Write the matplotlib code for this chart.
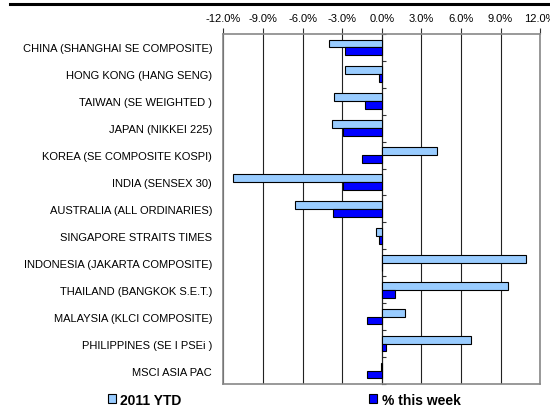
import numpy as np
import matplotlib
matplotlib.use("Agg")
import matplotlib.pyplot as plt
from matplotlib.lines import Line2D
from matplotlib.ticker import FuncFormatter

plt.rcParams["font.family"] = ["Liberation Sans", "DejaVu Sans"]

# ── Données ──────────────────────────────────────────────────────────────────
markets = [
    "CHINA (SHANGHAI SE COMPOSITE)",
    "HONG KONG (HANG SENG)",
    "TAIWAN (SE WEIGHTED )",
    "JAPAN (NIKKEI 225)",
    "KOREA (SE COMPOSITE KOSPI)",
    "INDIA (SENSEX 30)",
    "AUSTRALIA (ALL ORDINARIES)",
    "SINGAPORE STRAITS TIMES",
    "INDONESIA (JAKARTA COMPOSITE)",
    "THAILAND (BANGKOK S.E.T.)",
    "MALAYSIA (KLCI COMPOSITE)",
    "PHILIPPINES (SE I PSEi )",
    "MSCI ASIA PAC",
]
ytd_2011  = [-4.0, -2.8, -3.6, -3.8, 4.2, -11.3, -6.6, -0.4, 10.9, 9.6, 1.8, 6.8, -0.05]
this_week = [-2.8, -0.2, -1.3, -2.9, -1.5, -2.9, -3.7, -0.2, 0.0, 1.0, -1.1, 0.3, -1.1]
xticks    = [-12, -9, -6, -3, 0, 3, 6, 9, 12]

# ── Figure ───────────────────────────────────────────────────────────────────
fig = plt.figure(figsize=(5.5, 4.1), dpi=100)
ax = fig.add_axes([0.406, 0.061, 0.576, 0.854])

y = np.arange(len(markets))
h = 0.29
ax.barh(y - h / 2, ytd_2011, height=h, color="#99CCFF",
        edgecolor="black", linewidth=0.8, label="2011 YTD", zorder=3)
ax.barh(y + h / 2, this_week, height=h, color="#0000FF",
        edgecolor="black", linewidth=0.8, label="% this week", zorder=3)

ax.set_xlim(-12, 12)
ax.set_ylim(len(markets) - 0.5, -0.5)
ax.set_xticks(xticks)
ax.xaxis.set_major_formatter(FuncFormatter(lambda v, _: f"{v:.1f}%"))
ax.xaxis.tick_top()
ax.tick_params(axis="x", direction="out", length=4, width=0.8,
               labelsize=8, pad=4, color="#333333")
ax.set_yticks(y)
ax.set_yticklabels(markets)
ax.tick_params(axis="y", length=0, labelsize=8, pad=8)
ax.grid(True, axis="x", color="#222222", linewidth=0.8, zorder=1)
for s in ax.spines.values():
    s.set_color("#888888")
    s.set_linewidth(1.2)

# petites graduations de catégories sur l'axe zéro
sec = ax.secondary_yaxis(0.5)
sec.set_yticks(np.arange(len(markets) + 1) - 0.5)
sec.set_yticklabels([])
sec.tick_params(length=3, width=0.8, color="#333333", direction="out")
sec.spines["left"].set_color("#222222")
sec.spines["left"].set_linewidth(0.8)

# trait noir en haut
fig.add_artist(Line2D([0.018, 1.0], [0.988, 0.988], color="black",
                      linewidth=2.2, transform=fig.transFigure))

fig.legend(loc="lower left", bbox_to_anchor=(0.173, -0.025), ncol=2,
           frameon=False, prop={"weight": "bold", "size": 10},
           handlelength=0.6, handleheight=0.6, handletextpad=0.3,
           columnspacing=13.5)

fig.savefig("out.png", dpi=100)
